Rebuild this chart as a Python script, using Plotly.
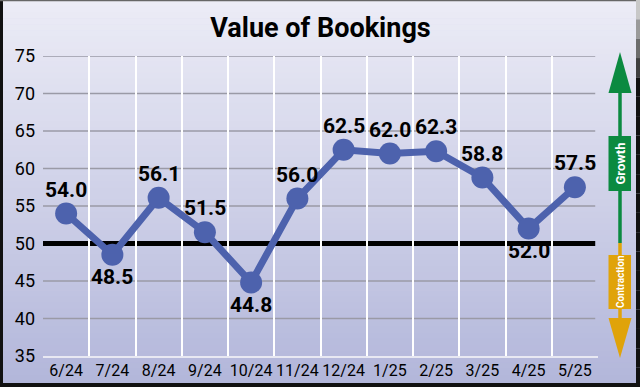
import plotly.graph_objects as go

# ---- data ----
months = ["6/24", "7/24", "8/24", "9/24", "10/24", "11/24", "12/24",
          "1/25", "2/25", "3/25", "4/25", "5/25"]
values = [54.0, 48.5, 56.1, 51.5, 44.8, 56.0, 62.5, 62.0, 62.3, 58.8, 52.0, 57.5]
label_side = ["top", "bottom", "top", "top", "bottom", "top", "top",
              "top", "top", "top", "bottom", "top"]
y_ticks = [35, 40, 45, 50, 55, 60, 65, 70, 75]
baseline = 50

W, H = 640, 387
ML, MR, MT, MB = 43, 42, 56, 31
PW, PH = W - ML - MR, H - MT - MB

def px(x):
    return (x - ML) / PW

def py(y):
    return (H - MB - y) / PH

FONT = "Roboto, Liberation Sans, sans-serif"
LINE = "#4d62ad"
GREEN = "#0b8a40"
GOLD = "#e0a30a"

fig = go.Figure()
fig.add_trace(go.Scatter(
    x=months, y=values, mode="lines+markers",
    line=dict(color=LINE, width=7),
    marker=dict(color=LINE, size=22),
    cliponaxis=False, hoverinfo="skip", showlegend=False,
))

annotations = []
for m, v, s in zip(months, values, label_side):
    annotations.append(dict(
        x=m, y=v, xref="x", yref="y", text=f"{v:.1f}", showarrow=False,
        yshift=24 if s == "top" else -22,
        font=dict(family=FONT, size=21, color="black", weight="bold")))

shapes = []
# background gradient bands
top_c = (236, 236, 246)
bot_c = (178, 182, 218)
N = 64
for i in range(N):
    t = i / (N - 1)
    c = tuple(round(top_c[k] + (bot_c[k] - top_c[k]) * t) for k in range(3))
    y0 = H * i / N
    y1 = H * (i + 1) / N + 0.6
    shapes.append(dict(type="rect", xref="paper", yref="paper",
                       x0=px(0), x1=px(W), y0=py(y1), y1=py(y0),
                       fillcolor=f"rgb{c}", line=dict(width=0), layer="below"))
# horizontal grid lines (below vertical white lines and the trace)
for v in y_ticks[1:]:
    if v == baseline:
        continue
    shapes.append(dict(type="line", xref="paper", yref="y", x0=0, x1=0.995, y0=v, y1=v,
                       line=dict(color="#9a9aa6", width=1.5), layer="below"))
# 50 reference line
shapes.append(dict(type="line", xref="paper", yref="y", x0=0, x1=0.995, y0=baseline, y1=baseline,
                   line=dict(color="black", width=5), layer="below"))
# frame
shapes.append(dict(type="line", xref="paper", yref="paper", x0=px(1.5), x1=px(1.5),
                   y0=py(0), y1=py(H), line=dict(color="#111", width=3), layer="above"))
shapes.append(dict(type="line", xref="paper", yref="paper", x0=px(0), x1=px(W),
                   y0=py(H - 2), y1=py(H - 2), line=dict(color="#111", width=4), layer="above"))
shapes.append(dict(type="line", xref="paper", yref="paper", x0=px(0), x1=px(W),
                   y0=py(0.5), y1=py(0.5), line=dict(color="#666", width=1.5), layer="above"))
for i in range(20):
    y0 = H * i / 20
    y1 = H * (i + 1) / 20
    g = max(17, round(200 - 183 * min(1, i / 4)))
    shapes.append(dict(type="line", xref="paper", yref="paper", x0=px(W - 2), x1=px(W - 2),
                       y0=py(y1), y1=py(y0), line=dict(color=f"rgb({g},{g},{g})", width=4),
                       layer="above"))
# right-side arrows
ax = 620
shapes.append(dict(type="line", xref="paper", yref="paper", x0=px(ax), x1=px(ax),
                   y0=py(243), y1=py(88), line=dict(color=GREEN, width=3.5), layer="above"))
shapes.append(dict(type="line", xref="paper", yref="paper", x0=px(ax), x1=px(ax),
                   y0=py(322), y1=py(243), line=dict(color=GOLD, width=3.5), layer="above"))
shapes.append(dict(type="path", xref="paper", yref="paper",
                   path=f"M {px(608.5)},{py(93)} L {px(ax)},{py(52)} L {px(631.5)},{py(93)} Z",
                   fillcolor=GREEN, line=dict(width=0), layer="above"))
shapes.append(dict(type="path", xref="paper", yref="paper",
                   path=f"M {px(608.5)},{py(318)} L {px(ax)},{py(358)} L {px(631.5)},{py(318)} Z",
                   fillcolor=GOLD, line=dict(width=0), layer="above"))
shapes.append(dict(type="rect", xref="paper", yref="paper",
                   x0=px(608.5), x1=px(631), y0=py(191), y1=py(136),
                   fillcolor=GREEN, line=dict(width=0), layer="above"))
shapes.append(dict(type="rect", xref="paper", yref="paper",
                   x0=px(608.5), x1=px(631), y0=py(309), y1=py(255),
                   fillcolor=GOLD, line=dict(width=0), layer="above"))

annotations += [
    dict(text="Growth", xref="paper", yref="paper", x=px(620), y=py(163.5),
         xanchor="center", yanchor="middle",
         textangle=-90, showarrow=False,
         font=dict(family=FONT, size=13, color="white", weight="bold")),
    dict(text="Contraction", xref="paper", yref="paper", x=px(620), y=py(282),
         xanchor="center", yanchor="middle",
         textangle=-90, showarrow=False,
         font=dict(family=FONT, size=10, color="white", weight="bold")),
]

fig.update_layout(
    width=W, height=H,
    margin=dict(l=ML, r=MR, t=MT, b=MB, autoexpand=False),
    paper_bgcolor="rgb(210,212,234)",
    plot_bgcolor="rgba(0,0,0,0)",
    title=dict(text="Value of Bookings", x=0.5, xref="paper", xanchor="center",
               y=1 - 28 / H, yref="container", yanchor="middle",
               font=dict(family=FONT, size=27, color="black", weight="bold")),
    xaxis=dict(type="category", tickson="boundaries", showgrid=True,
               gridcolor="white", gridwidth=1.5, ticks="", showline=True,
               linecolor="#e8e8f2", linewidth=1.5, tickangle=0, automargin=False,
               ticklabelstandoff=-1,
               tickfont=dict(family=FONT, size=16, color="black"),
               range=[-0.5, len(months) - 0.5], fixedrange=True),
    yaxis=dict(range=[y_ticks[0], y_ticks[-1]], tickvals=y_ticks, showgrid=False,
               zeroline=False, ticks="", automargin=False,
               ticklabelstandoff=7,
               tickfont=dict(family=FONT, size=18, color="black"), fixedrange=True),
    shapes=shapes,
    annotations=annotations,
)

fig.write_html("out.html", config={"displayModeBar": False},
               post_script="document.body.style.margin='0';document.body.style.padding='0';"
                           "document.body.style.overflow='hidden';")
